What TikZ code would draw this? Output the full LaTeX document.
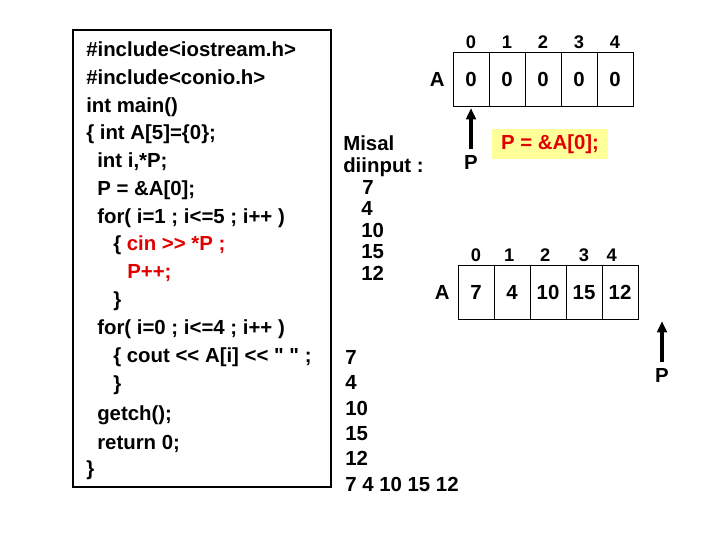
\documentclass[tikz,border=0pt]{standalone}
\usepackage{fontspec}
\setmainfont{Liberation Sans}[Ligatures=TeXOff]
\usetikzlibrary{arrows.meta,positioning}
\definecolor{codered}{RGB}{225,0,0}
\definecolor{noteyellow}{RGB}{255,255,153}
\newcommand{\codefont}{\fontsize{14.5}{17}\selectfont\bfseries}
\newcommand{\idxfont}{\fontsize{13}{15}\selectfont\bfseries}

\begin{document}
\begin{tikzpicture}[
		x=0.025cm, y=-0.025cm,
		codeline/.style={anchor=west, inner sep=0pt, text height=10pt, text depth=0pt, font=\codefont},
		redcode/.style={codeline, text=codered},
		cell/.style={rectangle, draw, line width=0.6pt, outer sep=0pt, minimum width=0.9cm, minimum height=1.35cm, text height=10pt, text depth=0pt, font=\codefont},
		index/.style={inner sep=0pt, text height=9pt, text depth=0pt, font=\idxfont},
		ptr/.style={-{Triangle[length=2.8mm, width=2.4mm]}, line width=2.2pt},
		note/.style={rectangle, fill=noteyellow, text=codered, font=\codefont, minimum width=2.88cm, minimum height=0.75cm}
		]
		\useasboundingbox (0,0) rectangle (720,540);

		% Code listing
		\draw[line width=1pt] (73,30) rectangle (331,487);
		\node[codeline] (l1) at (86,49) {\#include<iostream.h>};
		\node[codeline] (l2) at (86,77) {\#include<conio.h>};
		\node[codeline] (l3) at (86,105) {int main()};
		\node[codeline] (l4) at (86,132) {\{ int A[5]=\{0\};};
		\node[codeline] (l5) at (97,160) {int i,*P;};
		\node[codeline] (l6) at (97,188) {P = \&A[0];};
		\node[codeline] (l7) at (97,216) {for( i=1 ; i<=5 ; i++ )};
		\node[codeline] (l8) at (113,243) {\{ \textcolor{codered}{cin >> *P ;}};
		\node[redcode] (l9) at (127,271) {P++;};
		\node[codeline] (l10) at (113,299) {\}};
		\node[codeline] (l11) at (97,327) {for( i=0 ; i<=4 ; i++ )};
		\node[codeline] (l12) at (113,355) {\{ cout << A[i] << " " ;};
		\node[codeline] (l13) at (113,383) {\}};
		\node[codeline] (l14) at (97,413) {getch();};
		\node[codeline] (l15) at (97,442) {return 0;};
		\node[codeline] (l16) at (86,468) {\}};

		% Input example
		\node[codeline] (in1) at (343,143) {Misal};
		\node[codeline] (in2) at (343,165) {diinput :};
		\node[codeline] (in3) at (362,187) {7};
		\node[codeline] (in4) at (361,208) {4};
		\node[codeline] (in5) at (361,230) {10};
		\node[codeline] (in6) at (361,251) {15};
		\node[codeline] (in7) at (361,273) {12};

		% Output
		\node[codeline] (out1) at (345,357) {7};
		\node[codeline] (out2) at (345,382) {4};
		\node[codeline] (out3) at (345,408) {10};
		\node[codeline] (out4) at (345,433) {15};
		\node[codeline] (out5) at (345,458) {12};
		\node[codeline] (out6) at (345,484) {7 4 10 15 12};

		% Array before input
		\node[cell] (a0) at (471,79) {0};
		\node[cell, right=0pt of a0] (a1) {0};
		\node[cell, right=0pt of a1] (a2) {0};
		\node[cell, right=0pt of a2] (a3) {0};
		\node[cell, right=0pt of a3] (a4) {0};
		\node[codeline, anchor=east, left=0.2cm of a0] (aname) {A};
		\node[index, above=0.07cm of a0] (ai0) {0};
		\node[index, above=0.07cm of a1] (ai1) {1};
		\node[index, above=0.07cm of a2] (ai2) {2};
		\node[index, above=0.07cm of a3] (ai3) {3};
		\node[index, above=0.07cm of a4] (ai4) {4};

		% Pointer to A[0]
		\node[codeline, anchor=center] (p1) at (471,162) {P};
		\draw[ptr, shorten <=4pt, shorten >=1.5pt] (p1.north) -- (a0.south);
		\node[note] (assign) at (550,144) {P = \&A[0];};

		% Array after input
		\node[cell] (b0) at (476,292) {7};
		\node[cell, right=0pt of b0] (b1) {4};
		\node[cell, right=0pt of b1] (b2) {10};
		\node[cell, right=0pt of b2] (b3) {15};
		\node[cell, right=0pt of b3] (b4) {12};
		\node[codeline, anchor=east, left=0.2cm of b0] (bname) {A};
		\node[index, above=0.07cm of b0] (bi0) {0};
		\node[index, above=0.07cm of b1, xshift=-2] (bi1) {1};
		\node[index, above=0.07cm of b2, xshift=-2] (bi2) {2};
		\node[index, above=0.07cm of b3] (bi3) {3};
		\node[index, above=0.07cm of b4, xshift=-6] (bi4) {4};

		% Pointer past the end
		\node[codeline, anchor=center] (p2) at (662,375) {P};
		\coordinate (pend) at (662,319);
		\draw[ptr, shorten <=4pt, shorten >=1.5pt] (p2.north) -- (pend);

	\end{tikzpicture}
\end{document}
